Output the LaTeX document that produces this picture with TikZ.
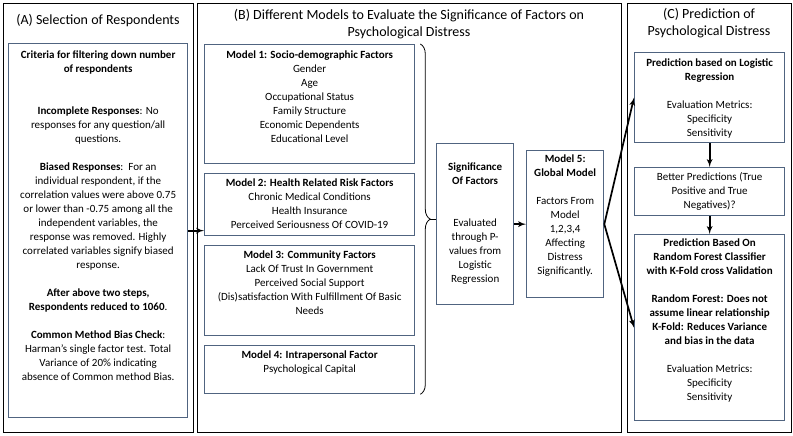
\documentclass[tikz,border=0pt]{standalone}
\usepackage{fontspec}
\setmainfont{Carlito}
\usepackage{tikz}
\usetikzlibrary{shapes,arrows,decorations.pathreplacing,calc}
\definecolor{boxblue}{RGB}{80,100,128}
% fixed size box with text starting at the top
\newcommand{\topbox}[4]{\parbox[c][#2][t]{#1}{\centering\rule{0pt}{#3}#4}}

\begin{document}
\begin{tikzpicture}[x=1pt,y=-1pt,auto,
    panel/.style ={rectangle, draw=black, line width=1pt, anchor=north west,
      inner sep=0pt},
    title_text/.style ={align=center, font=\fontsize{14}{17}\selectfont},
    block_frame/.style ={rectangle, draw=boxblue, line width=1.3pt, fill=white,
      anchor=north west, inner sep=0pt, font=\fontsize{11}{14}\selectfont},
    brace_line/.style ={draw, line width=0.8pt, decorate,
      decoration={brace, amplitude=10pt}},
    line/.style ={draw, line width=1.7pt, -latex', shorten >=0pt}]
    \useasboundingbox (0,0) rectangle (793,436);
    % the three panels
    \node[panel, minimum width=190pt, minimum height=429pt] (pA) at (3,3) {};
    \node[panel, minimum width=424pt, minimum height=429pt] (pB) at (197,3) {};
    \node[panel, minimum width=164pt, minimum height=429pt] (pC) at (627,3) {};
    \node[title_text] (tA) at (98,21) {(A) Selection of Respondents};
    \node[title_text] (tB) at (409,24) {(B) Different Models to Evaluate the Significance of Factors on\\Psychological Distress};
    \node[title_text] (tC) at (709,23) {(C) Prediction of\\Psychological Distress};
    % panel A - selection
    \node[block_frame] (selbox) at (8,43) {\topbox{179pt}{374pt}{14.6pt}{%
      \textbf{Criteria for filtering down number}\\
      \textbf{of respondents}\\[28pt]
      \textbf{Incomplete Responses}: No\\
      responses for any question/all\\
      questions.\\[14pt]
      \textbf{Biased Responses}:\ \ For an\\
      individual respondent, if the\\
      correlation values were above 0.75\\
      or lower than -0.75 among all the\\
      independent variables, the\\
      response was removed. Highly\\
      correlated variables signify biased\\
      response.\\[14pt]
      \textbf{After above two steps,}\\
      \textbf{Respondents reduced to 1060}.\\[14pt]
      \textbf{Common Method Bias Check}:\\
      Harman’s single factor test. Total\\
      Variance of 20\% indicating\\
      absence of Common method Bias.}};
    % panel B - models
    \node[block_frame] (m1) at (204,44) {\topbox{210pt}{119pt}{13.6pt}{%
      \textbf{Model 1: Socio-demographic Factors}\\ Gender\\ Age\\
      Occupational Status\\ Family Structure\\ Economic Dependents\\ Educational Level}};
    \node[block_frame] (m2) at (204,173) {\topbox{210pt}{62pt}{12.6pt}{%
      \textbf{Model 2: Health Related Risk Factors}\\ Chronic Medical Conditions\\
      Health Insurance\\ Perceived Seriousness Of COVID-19}};
    \node[block_frame] (m3) at (204,245) {\topbox{210pt}{90pt}{12.6pt}{%
      \textbf{Model 3: Community Factors}\\ Lack Of Trust In Government\\
      Perceived Social Support\\ (Dis)satisfaction With Fulfillment Of Basic\\ Needs}};
    \node[block_frame] (m4) at (204,345) {\topbox{210pt}{48pt}{12.6pt}{%
      \textbf{Model 4: Intrapersonal Factor}\\ Psychological Capital}};
    \node[block_frame] (sig) at (436,143) {\topbox{77pt}{161pt}{26.6pt}{%
      \textbf{Significance}\\ \textbf{Of Factors}\\[28pt]
      Evaluated\\ through P-\\ values from\\ Logistic\\ Regression}};
    \node[block_frame] (m5) at (526,150) {\topbox{77pt}{147pt}{11.6pt}{%
      \textbf{Model 5:}\\ \textbf{Global Model}\\[14pt]
      Factors From\\ Model\\ 1,2,3,4\\ Affecting\\ Distress\\ Significantly.}};
    % panel C - prediction
    \node[block_frame] (lr) at (634,52) {\topbox{150pt}{90pt}{13.6pt}{%
      \textbf{Prediction based on Logistic}\\ \textbf{Regression}\\[14pt]
      Evaluation Metrics:\\ Specificity\\ Sensitivity}};
    \node[block_frame] (better) at (634,167) {\topbox{150pt}{48pt}{12.6pt}{%
      Better Predictions (True\\ Positive and True\\ Negatives)?}};
    \node[block_frame] (rf) at (634,234) {\topbox{150pt}{186pt}{11.6pt}{%
      \textbf{Prediction Based On}\\ \textbf{Random Forest Classifier}\\
      \textbf{with K-Fold cross Validation}\\[14pt]
      \textbf{Random Forest: Does not}\\ \textbf{assume linear relationship}\\
      \textbf{K-Fold: Reduces Variance}\\ \textbf{and bias in the data}\\[14pt]
      Evaluation Metrics:\\ Specificity\\ Sensitivity}};
    % connectors
    \path[brace_line] ([xshift=5pt]m1.north east) -- ([xshift=5pt]m4.south east);
    \coordinate (btip) at ($([xshift=15pt]m1.north east)!0.5!([xshift=15pt]m4.south east)$);
    \draw[line width=0.8pt] (btip) -- (sig.west |- btip);
    \path[line] (selbox.east) -- (m2.west |- selbox.east);
    \path[line] (sig.east) -- (m5.west);
    \path[line] (m5.east) -- (lr.west);
    \path[line] (m5.east) -- (rf.west);
    \path[line] (lr.south) -- (better.north);
    \path[line] (better.south) -- (rf.north);
\end{tikzpicture}
\end{document}
